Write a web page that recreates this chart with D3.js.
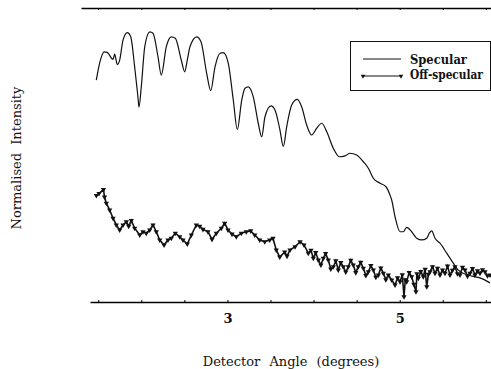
<!DOCTYPE html>
<html>
<head>
<meta charset="utf-8">
<script src="https://cdn.jsdelivr.net/npm/d3@7"></script>
<style>
  body { margin: 0; background: #fff; }
  svg { display: block; }
</style>
</head>
<body>
<figure id="chart" style="margin:0"></figure>
<script>
// Specular curve (angle in degrees, intensity in arbitrary units)
const specAngle = [1.478, 1.517, 1.567, 1.605, 1.672, 1.691, 1.721, 1.749, 1.788, 1.838,
  1.877, 1.923, 1.962, 1.973, 2.000, 2.040, 2.098, 2.136, 2.194, 2.232,
  2.290, 2.348, 2.395, 2.464, 2.504, 2.534, 2.565, 2.643, 2.693, 2.759,
  2.806, 2.856, 2.914, 2.952, 3.010, 3.068, 3.115, 3.166, 3.204, 3.242,
  3.300, 3.358, 3.398, 3.436, 3.506, 3.552, 3.610, 3.649, 3.688, 3.746,
  3.811, 3.862, 3.920, 3.978, 4.036, 4.095, 4.153, 4.229, 4.299, 4.365,
  4.423, 4.501, 4.578, 4.636, 4.694, 4.771, 4.841, 4.887, 4.907, 4.946,
  5.004, 5.042, 5.081, 5.139, 5.197, 5.256, 5.314, 5.344, 5.372, 5.410,
  5.468, 5.546, 5.622, 5.677, 5.758, 5.839, 5.932, 6.048];
const specValue = [75.5, 81.3, 85.1, 84.9, 82.5, 84.3, 80.8, 82.3, 89.1, 91.6,
  90.2, 80.0, 69.4, 66.3, 73.2, 86.8, 91.9, 91.4, 83.4, 77.2,
  86.8, 90.2, 89.7, 82.3, 78.3, 82.3, 86.8, 90.2, 88.5, 77.8,
  71.9, 80.0, 84.6, 84.8, 81.2, 68.7, 58.7, 68.7, 72.7, 73.2,
  69.8, 60.8, 56.2, 63.0, 66.7, 65.3, 58.5, 52.9, 59.6, 67.0,
  68.9, 66.4, 60.2, 56.8, 59.1, 60.8, 57.9, 52.3, 49.4, 49.7,
  50.6, 50.0, 47.7, 45.5, 42.1, 40.4, 39.2, 36.4, 34.7, 29.0,
  23.9, 23.9, 25.4, 23.9, 21.7, 21.1, 21.7, 23.4, 24.2, 21.7,
  20.0, 16.6, 13.2, 10.9, 9.5, 8.8, 8.2, 6.5];

// Off-specular curve
const offAngle = [1.478, 1.509, 1.561, 1.573, 1.594, 1.633, 1.672, 1.710, 1.749, 1.788,
  1.826, 1.854, 1.884, 1.923, 1.982, 2.020, 2.058, 2.098, 2.136, 2.174,
  2.214, 2.264, 2.310, 2.348, 2.395, 2.446, 2.484, 2.534, 2.581, 2.639,
  2.678, 2.716, 2.774, 2.821, 2.871, 2.929, 2.968, 3.007, 3.053, 3.103,
  3.161, 3.219, 3.270, 3.317, 3.375, 3.433, 3.491, 3.529, 3.567, 3.607,
  3.665, 3.692, 3.726, 3.785, 3.843, 3.889, 3.939, 3.970, 3.997, 4.025,
  4.055, 4.085, 4.113, 4.140, 4.171, 4.200, 4.229, 4.258, 4.287, 4.316,
  4.345, 4.374, 4.403, 4.432, 4.461, 4.490, 4.519, 4.548, 4.578, 4.607,
  4.636, 4.665, 4.694, 4.723, 4.752, 4.781, 4.810, 4.839, 4.868, 4.907,
  4.946, 4.975, 5.004, 5.030, 5.050, 5.065, 5.081, 5.110, 5.139, 5.165,
  5.189, 5.200, 5.216, 5.245, 5.274, 5.295, 5.314, 5.333, 5.352, 5.381,
  5.410, 5.439, 5.468, 5.497, 5.526, 5.555, 5.584, 5.613, 5.642, 5.671,
  5.700, 5.729, 5.758, 5.787, 5.816, 5.845, 5.874, 5.903, 5.932, 5.961,
  5.990, 6.019, 6.048];
const offValue = [36.2, 36.9, 38.3, 35.7, 33.6, 31.3, 28.5, 26.2, 24.5, 26.2,
  27.3, 25.8, 27.7, 25.1, 22.8, 23.9, 23.4, 24.5, 26.2, 23.9,
  21.1, 19.4, 21.1, 21.7, 23.4, 22.2, 21.1, 19.7, 22.8, 26.2,
  25.8, 24.7, 23.9, 21.3, 23.4, 25.1, 26.8, 24.5, 23.1, 22.2,
  23.4, 23.9, 24.2, 22.8, 21.1, 20.5, 21.1, 21.7, 17.7, 15.3,
  17.0, 15.6, 17.7, 18.8, 20.5, 19.4, 16.6, 17.6, 14.9, 16.8,
  14.3, 12.6, 14.9, 16.5, 14.3, 11.2, 12.0, 14.0, 10.9, 13.4,
  12.0, 10.2, 12.0, 14.2, 12.6, 10.0, 12.0, 13.5, 11.5, 9.0,
  10.3, 12.4, 10.9, 8.4, 9.2, 11.6, 9.8, 7.6, 9.2, 7.5,
  5.8, 8.2, 6.9, 9.3, 1.8, 7.6, 6.9, 10.0, 8.6, 6.0,
  3.5, 9.6, 8.1, 10.4, 8.6, 11.1, 5.2, 9.4, 10.3, 12.0,
  9.8, 11.5, 9.2, 10.9, 9.8, 12.2, 9.2, 10.8, 12.0, 9.6,
  9.2, 11.8, 10.9, 8.8, 9.8, 11.4, 9.2, 10.6, 9.8, 11.0,
  10.3, 8.9, 9.2];

// Axis ticks
const tickValues = [1.5, 2, 2.5, 3, 3.5, 4, 4.5, 5, 5.5, 6];
const tickLabels = {3: '3', 5: '5'};
const seriesNames = ['Specular', 'Off-specular'];
const legendTextWidths = [57, 73];

const width = 491;
const height = 369;
const serif = "'DejaVu Serif', serif";

const svg = d3.select('figure#chart')
  .append('svg')
  .attr('width', width)
  .attr('height', height)
  .attr('font-family', serif);

// Scales
const x = d3.scaleLinear()
  .domain([1.3, 6.06])
  .range([81, 491]);
const y = d3.scaleLinear()
  .domain([0, 100])
  .range([302, 8]);

// Top frame line with inward ticks
svg.append('g')
  .attr('transform', 'translate(0,8)')
  .call(d3.axisBottom(x).tickValues(tickValues).tickSize(2).tickSizeOuter(0).tickFormat(''))
  .call(g => g.select('.domain').attr('stroke-width', 1.6));

// Bottom axis starts a little further right
const xBottom = x.copy()
  .domain([x.invert(90), 6.06])
  .range([90, 491]);
svg.append('g')
  .attr('transform', 'translate(0,302)')
  .call(d3.axisTop(xBottom).tickValues(tickValues).tickSize(2).tickSizeOuter(0)
    .tickFormat(d => tickLabels[d] || ''))
  .attr('font-family', serif)
  .attr('font-size', 13)
  .attr('font-weight', 'bold')
  .call(g => g.select('.domain').attr('stroke-width', 1.3))
  .call(g => g.selectAll('.tick text')
    .attr('y', 21)
    .attr('dy', 0)
    .attr('fill', '#111'));

// Lines
const specLine = d3.line()
  .curve(d3.curveMonotoneX)
  .x(d => x(d[0]))
  .y(d => y(d[1]));
const offLine = d3.line()
  .x(d => x(d[0]))
  .y(d => y(d[1]));

const specData = specAngle.map((a, i) => [a, specValue[i]]);
const offData = offAngle.map((a, i) => [a, offValue[i]]);

svg.append('path')
  .datum(specData)
  .attr('fill', 'none')
  .attr('stroke', '#111')
  .attr('stroke-width', 1.2)
  .attr('d', specLine);

svg.append('path')
  .datum(offData)
  .attr('fill', 'none')
  .attr('stroke', '#111')
  .attr('stroke-width', 1.6)
  .attr('d', offLine);

const tri = d3.symbol().type(d3.symbolTriangle).size(12);
svg.append('g')
  .selectAll('path')
  .data(offData)
  .enter()
  .append('path')
  .attr('d', tri)
  .attr('transform', d => 'translate(' + x(d[0]) + ',' + y(d[1]) + ') rotate(180)')
  .attr('fill', '#111');

// Legend
const legend = svg.append('g');
legend.append('rect')
  .attr('x', 350.5)
  .attr('y', 41.5)
  .attr('width', 140)
  .attr('height', 49)
  .attr('fill', '#fff')
  .attr('stroke', '#111')
  .attr('stroke-width', 1);
legend.append('line')
  .attr('x1', 363).attr('x2', 401).attr('y1', 59).attr('y2', 59)
  .attr('stroke', '#111');
legend.append('line')
  .attr('x1', 363).attr('x2', 401).attr('y1', 76).attr('y2', 76)
  .attr('stroke', '#111');
[363, 401].forEach(px => {
  legend.append('path')
    .attr('d', d3.symbol().type(d3.symbolTriangle).size(9))
    .attr('transform', 'translate(' + px + ',76) rotate(180)')
    .attr('fill', '#111');
});
// squeeze the wide serif horizontally to the reference width
legend.selectAll('text.name')
  .data(seriesNames)
  .enter()
  .append('text')
  .attr('class', 'name')
  .attr('font-size', 13)
  .attr('font-weight', 'bold')
  .attr('fill', '#111')
  .text(d => d)
  .attr('transform', function(d, i) {
    const k = Math.min(1, legendTextWidths[i] / this.getComputedTextLength());
    return 'translate(410,' + (63.5 + i * 15.5) + ') scale(' + k + ',1)';
  });

// Axis titles
svg.append('text')
  .attr('x', 291)
  .attr('y', 366)
  .attr('text-anchor', 'middle')
  .attr('font-size', 13)
  .attr('fill', '#111')
  .style('word-spacing', '5px')
  .text('Detector Angle (degrees)');

svg.append('text')
  .attr('transform', 'translate(21,158) rotate(-90)')
  .attr('text-anchor', 'middle')
  .attr('font-size', 13)
  .attr('fill', '#111')
  .style('word-spacing', '4px')
  .text('Normalised Intensity');
</script>
</body>
</html>
